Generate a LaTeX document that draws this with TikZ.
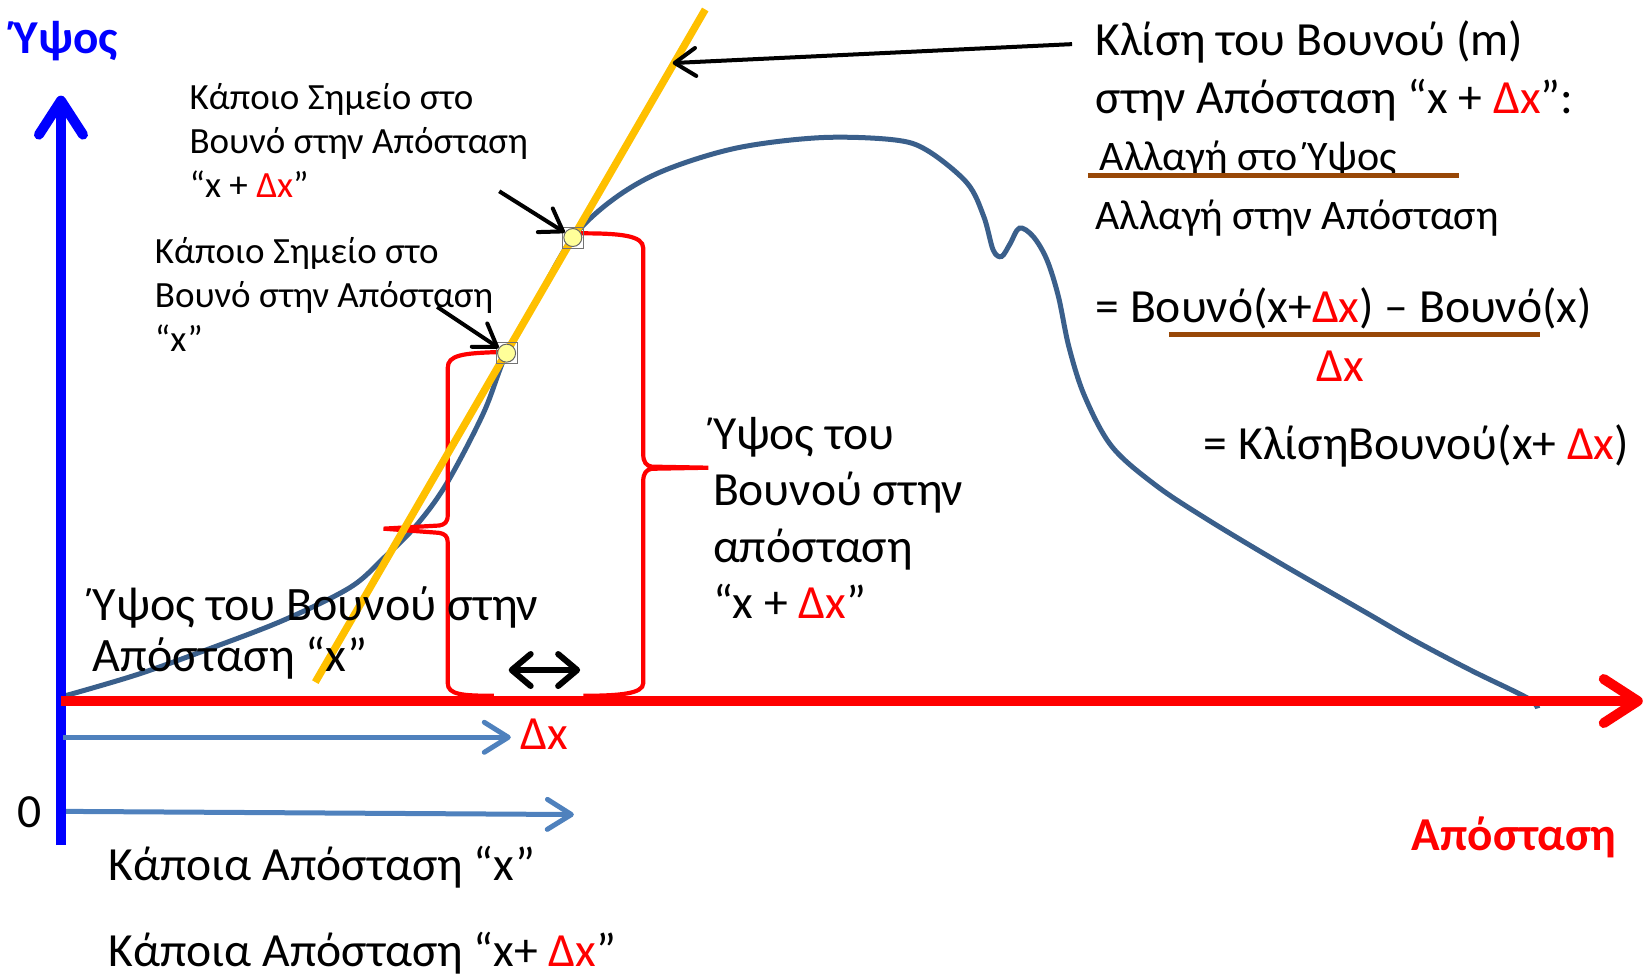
\documentclass[tikz,border=0pt]{standalone}
\usepackage{fontspec}
\setmainfont{Carlito}
\usepackage{xcolor}
\usepackage{tikz}
\usetikzlibrary{arrows.meta,calc}
\definecolor{axisblue}{RGB}{0,0,255}
\definecolor{axisred}{RGB}{255,0,0}
\definecolor{hillblue}{RGB}{58,95,139}
\definecolor{stepblue}{RGB}{79,129,189}
\definecolor{slopegold}{RGB}{255,192,0}
\definecolor{fracbrown}{RGB}{152,72,7}
\definecolor{dotyellow}{RGB}{255,255,153}
\newcommand{\redDx}{\textcolor{axisred}{Δx}}
\tikzset{
  big-text/.style={font=\fontsize{23.8}{29}\selectfont, inner sep=0pt, align=left},
  mid-text/.style={font=\fontsize{24}{25.7}\selectfont, inner sep=0pt, align=left},
  tall-text/.style={font=\fontsize{23.8}{28}\selectfont, inner sep=0pt, align=left},
  frac-text/.style={font=\fontsize{21}{25}\selectfont, inner sep=0pt, align=left},
  small-text/.style={font=\fontsize{18.5}{22}\selectfont, inner sep=0pt, align=left},
  axis-label/.style={font=\fontsize{23.6}{28}\selectfont\bfseries, inner sep=0pt},
  axis-arrow/.style={line width=5pt,
    -{Straight Barb[length=17pt, width=22pt, round]}},
  step-arrow/.style={draw=stepblue, line width=2.5pt,
    -{Straight Barb[length=12pt, width=15pt, round]}},
  pointer-arrow/.style={draw=black, line width=2pt,
    -{Straight Barb[length=10.5pt, width=14pt, round]}},
  span-arrow/.style={draw=black, line width=3pt,
    {Straight Barb[length=9.5pt, width=16pt, round]}-{Straight Barb[length=9.5pt, width=16pt, round]}},
  hill-line/.style={draw=hillblue, line width=2.5pt},
  tangent-line/.style={draw=slopegold, line width=3.7pt},
  brace-line/.style={draw=axisred, line width=2.1pt},
  frac-line/.style={draw=fracbrown, line width=2.3pt},
  point-dot/.style={circle, draw=black!60, line width=0.5pt, fill=dotyellow,
    minimum size=9pt, inner sep=0pt}
}

\begin{document}
\begin{tikzpicture}[x=0.5255pt, y=-0.5255pt]
\useasboundingbox (0,0) rectangle (1568,929);

% Axes
\coordinate (y-foot) at (58,804);
\coordinate (y-tip) at (58,91);
\coordinate (origin) at (58,667);
\coordinate (x-tip) at (1563,667);

% Mountain profile
\draw[hill-line] plot[smooth, tension=0.55] coordinates {
  (62,662) (130,642) (200,617) (270,590) (333,559) (365,531) (396,500)
  (425,460) (460,393) (482,336) (513,281) (545,226) (583,190) (630,163)
  (700,141) (780,131) (850,133) (882,143) (920,174) (936,206) (945,238)
  (953,244) (961,232) (970,217) (983,225) (996,247) (1007,282) (1017,330)
  (1032,377) (1058,425) (1100,462) (1150,495) (1220,537) (1300,583)
  (1345,609) (1400,638) (1453,664) (1463,674)};

% Braces
\draw[brace-line] (474,335) .. controls (440,336) and (426,338) .. (426,350)
  -- (426,490) .. controls (426,497) and (423,499) .. (418,500)
  -- (365,503) -- (418,507) .. controls (423,508) and (426,510) .. (426,516)
  -- (426,650) .. controls (426,661) and (440,662) .. (470,662);
\draw[brace-line] (553,222) .. controls (590,222) and (612,224) .. (612,236)
  -- (612,432) .. controls (612,440) and (615,443) .. (620,444)
  -- (674,445) -- (620,446) .. controls (615,447) and (612,450) .. (612,458)
  -- (612,650) .. controls (612,660) and (590,662) .. (555,662);

% Tangent line
\coordinate (tan-foot) at (300,649);
\coordinate (tan-top) at (671,9);
\draw[tangent-line] (tan-foot) -- (tan-top);

\draw[axis-arrow, draw=axisblue] (y-foot) -- (y-tip);
\draw[axis-arrow, draw=axisred] (origin) -- (x-tip);

% Points on the mountain
\draw[black!55, line width=0.5pt] (472,326) rectangle (492,346);
\draw[black!55, line width=0.5pt] (535,216) rectangle (555,236);
\node[point-dot] (pt-x) at (482,336) {};
\node[point-dot] (pt-dx) at (545,226) {};

% Labels
\node[axis-label, text=axisblue, anchor=base] (height-title) at (62.6,50.7) {Ύψος};
\node[axis-label, text=axisred, anchor=base west] (dist-title) at (1343,809) {Απόσταση};
\node[big-text, anchor=base] (zero) at (27.7,787) {0};

\node[small-text, anchor=base west] (pt-dx-label) at (180,188)
  {Κάποιο Σημείο στο\\Βουνό στην Απόσταση\\“x + \redDx”};
\node[small-text, anchor=base west] (pt-x-label) at (147,334)
  {Κάποιο Σημείο στο\\Βουνό στην Απόσταση\\“x”};
\node[mid-text, anchor=base west] (height-x-label) at (88,639)
  {Ύψος του Βουνού στην\\Απόσταση “x”};
\node[tall-text, anchor=base west] (height-dx-label) at (678,588)
  {Ύψος του\\Βουνού στην\\απόσταση\\“x + \redDx”};

\node[big-text, anchor=base west] (slope-title) at (1042,108)
  {Κλίση του Βουνού (m)\\στην Απόσταση “x + \redDx”:};
\node[frac-text, anchor=base west] (rise-label) at (1046,162) {Αλλαγή στο Ύψος};
\node[frac-text, anchor=base west] (run-label) at (1042,218) {Αλλαγή στην Απόσταση};
\node[big-text, anchor=base west] (diff-label) at (1042,307) {= Βουνό(x+\redDx) – Βουνό(x)};
\node[big-text, anchor=base, text=axisred] (diff-denom) at (1275,363) {Δx};
\node[big-text, anchor=base west] (slope-result) at (1145,437) {= ΚλίσηΒουνού(x+ \redDx)};

\node[big-text, anchor=base west, text=axisred] (dx-label) at (495,713) {Δx};
\node[big-text, anchor=base west] (dist-x-label) at (103,838) {Κάποια Απόσταση “x”};
\node[big-text, anchor=base west] (dist-dx-label) at (103,920) {Κάποια Απόσταση “x+ \redDx”};

% Fraction bars
\coordinate (rise-bar-l) at (1035,167);
\coordinate (rise-bar-r) at (1388,167);
\coordinate (diff-bar-l) at (1112,318);
\coordinate (diff-bar-r) at (1465,318);
\draw[frac-line] (rise-bar-l) -- (rise-bar-r);
\draw[frac-line] (diff-bar-l) -- (diff-bar-r);

% Pointers
\coordinate (slope-from) at (1020,42);
\coordinate (slope-at) at (640,60);
\coordinate (pt-dx-from) at (475,182);
\coordinate (pt-x-from) at (416,292);
\draw[pointer-arrow] (slope-from) -- (slope-at);
\draw[pointer-arrow] (pt-dx-from) -- (pt-dx);
\draw[pointer-arrow] (pt-x-from) -- (pt-x);

% Distance arrows
\coordinate (step-x-from) at (60,701.5);
\coordinate (step-x-to) at (486,701.5);
\coordinate (step-dx-from) at (63,772);
\coordinate (step-dx-to) at (546,775);
\draw[step-arrow] (step-x-from) -- (step-x-to);
\draw[step-arrow] (step-dx-from) -- (step-dx-to);
\coordinate (span-l) at (484,637.5);
\coordinate (span-r) at (552,637.5);
\draw[span-arrow] (span-l) -- (span-r);
\end{tikzpicture}
\end{document}
